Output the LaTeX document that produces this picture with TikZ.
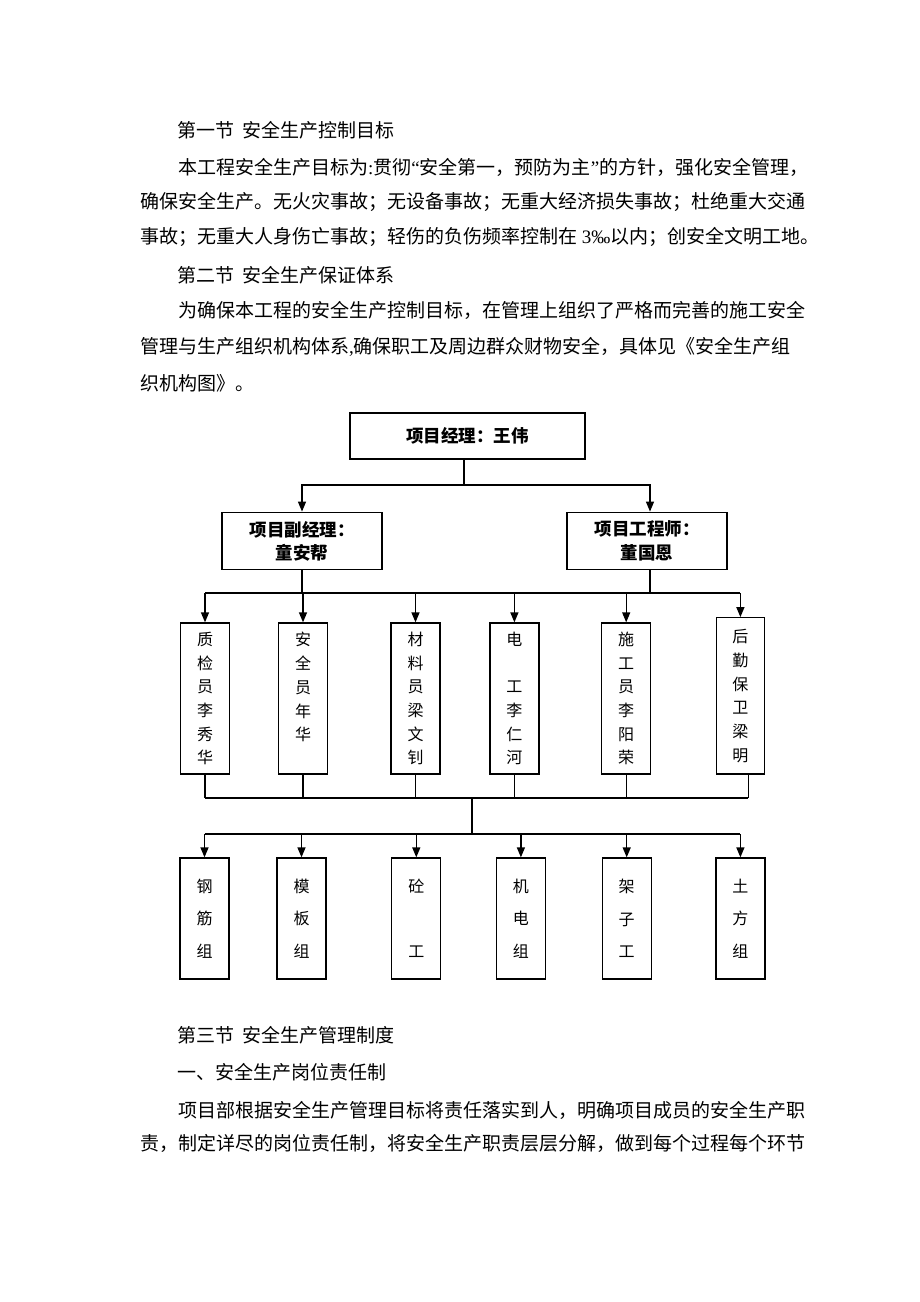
\documentclass[tikz,border=0pt]{standalone}
\usepackage{fontspec}
\setmainfont{Liberation Serif}
\newfontfamily\cjk{Noto Sans CJK SC}
\usetikzlibrary{arrows.meta}
\XeTeXlinebreaklocale "zh"
\XeTeXlinebreakskip=0pt plus 3pt
\begin{document}
\begin{tikzpicture}[x=1pt,y=-1pt,
  body/.style={font=\cjk\fontsize{19}{19}\selectfont, anchor=west, inner sep=0pt},
  hbox/.style={draw, line width=1.3pt, font=\cjk\bfseries\fontsize{17.5}{23.3}\selectfont, align=center, inner sep=0pt},
  vbox/.style={draw, line width=1.3pt, align=center, inner sep=0pt, minimum width=49pt},
  rowa/.style={vbox, font=\cjk\fontsize{16}{23.7}\selectfont, minimum height=151pt},
  rowb/.style={vbox, font=\cjk\fontsize{16}{32.5}\selectfont, minimum height=121pt},
  arr/.style={-{Triangle[length=10pt,width=8pt]}, line width=1.3pt},
  ln/.style={line width=1.3pt}]
\fill[white] (0,0) rectangle (920,1302);
\useasboundingbox (0,0) rectangle (920,1302);

% text
\node[body] (t1) at (177,130) {第一节\hspace{8pt}安全生产控制目标};
\node[body] (t2) at (178,167) {\makebox[632pt][s]{本工程安全生产目标为{\rmfamily :}贯彻{\rmfamily “}安全第一，预防为主{\rmfamily ”}的方针，强化安全管理，}};
\node[body] (t3) at (140,202) {\makebox[670pt][s]{确保安全生产。无火灾事故；无设备事故；无重大经济损失事故；杜绝重大交通}};
\node[body] (t4) at (140,237) {事故；无重大人身伤亡事故；轻伤的负伤频率控制在{\rmfamily\ 3‰}以内；创安全文明工地。};
\node[body] (t5) at (177,275) {第二节\hspace{8pt}安全生产保证体系};
\node[body] (t6) at (178,310) {\makebox[632pt][s]{为确保本工程的安全生产控制目标，在管理上组织了严格而完善的施工安全}};
\node[body] (t7) at (140,347) {\makebox[670pt][s]{管理与生产组织机构体系{\rmfamily ,}确保职工及周边群众财物安全，具体见《安全生产组}};
\node[body] (t8) at (140,383) {织机构图》。};
\node[body] (t9) at (177,1035) {第三节\hspace{8pt}安全生产管理制度};
\node[body] (t10) at (177,1072) {一、安全生产岗位责任制};
\node[body] (t11) at (178,1110) {\makebox[632pt][s]{项目部根据安全生产管理目标将责任落实到人，明确项目成员的安全生产职}};
\node[body] (t12) at (140,1143) {\makebox[670pt][s]{责，制定详尽的岗位责任制，将安全生产职责层层分解，做到每个过程每个环节}};

% top boxes
\node[hbox, minimum width=235pt, minimum height=46pt] (pm) at (467.5,436) {项目经理：王伟};
\node[hbox, minimum width=160pt, minimum height=57.5pt] (dm) at (302,541) {项目副经理：\\童安帮};
\node[hbox, minimum width=160pt, minimum height=57.5pt] (ce) at (647,541) {项目工程师：\\董国恩};

% row 1
\node[rowa] (b1) at (205,698.5) {质\\检\\员\\李\\秀\\华};
\node[rowa] (b2) at (303,698.5) {安\\全\\员\\年\\华\\~};
\node[rowa] (b3) at (415.5,698.5) {材\\料\\员\\梁\\文\\钊};
\node[rowa] (b4) at (514.4,698.5) {电\\~\\工\\李\\仁\\河};
\node[rowa] (b5) at (626.2,698.5) {施\\工\\员\\李\\阳\\荣};
\node[rowa, minimum width=47.5pt, minimum height=156.3pt] (b6) at (740.4,695.9) {后\\勤\\保\\卫\\梁\\明};

% row 2
\node[rowb] (c1) at (204.5,918.5) {钢\\筋\\组};
\node[rowb] (c2) at (301.5,918.5) {模\\板\\组};
\node[rowb] (c3) at (416.3,918.5) {砼\\~\\工};
\node[rowb] (c4) at (520.9,918.5) {机\\电\\组};
\node[rowb] (c5) at (626.7,918.5) {架\\子\\工};
\node[rowb] (c6) at (740.4,918.5) {土\\方\\组};

% connectors top
\coordinate (j1) at (464,485);
\draw[ln] (pm.south -| j1) -- (j1);
\draw[arr] (j1) -| (dm.north);
\draw[arr] (j1) -| ([xshift=3pt]ce.north);

% bus to row 1
\coordinate (bus1) at (472,593);
\draw[ln] (dm.south) -- (dm.south |- bus1);
\draw[ln] ([xshift=3pt]ce.south) -- ([xshift=3pt]ce.south |- bus1);
\draw[ln] (b1.north |- bus1) -- (b6.north |- bus1);
\foreach \b in {b1,b2,b3,b4,b5,b6} \draw[arr] (\b.north |- bus1) -- (\b.north);

% row 1 to bus 2
\coordinate (bus2) at (472,798);
\foreach \b in {b1,b2,b3,b4,b5} \draw[ln] (\b.south) -- (\b.south |- bus2);
\draw[ln] ([xshift=8pt]b6.south) -- ([xshift=8pt]b6.south |- bus2);
\draw[ln] (b1.south |- bus2) -- ([xshift=8pt]b6.south |- bus2);

% bus 3 to row 2
\coordinate (bus3) at (472,834);
\draw[ln] (bus2) -- (bus3);
\draw[ln] (c1.north |- bus3) -- (c6.north |- bus3);
\foreach \c in {c1,c2,c3,c4,c5,c6} \draw[arr] (\c.north |- bus3) -- (\c.north);
\end{tikzpicture}
\end{document}
